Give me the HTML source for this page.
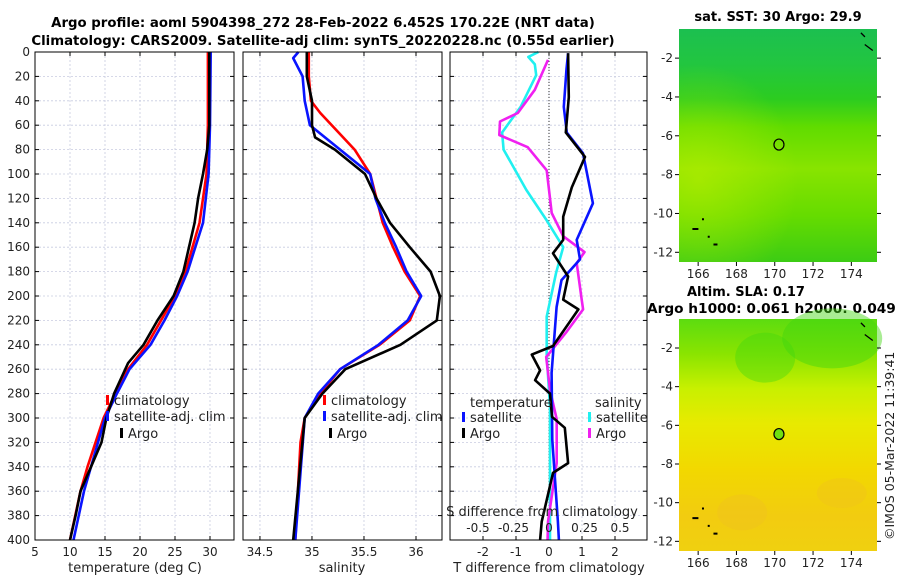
<!DOCTYPE html>
<html><head><meta charset="utf-8">
<style>
body{margin:0;background:#fff;}
svg{display:block;font-family:"DejaVu Sans","Liberation Sans",sans-serif;}
</style></head>
<body>
<svg id="c" width="900" height="580" xmlns="http://www.w3.org/2000/svg">
<defs>
<linearGradient id="sstg" x1="0" y1="0" x2="0" y2="1">
<stop offset="0" stop-color="#1cbf50"/><stop offset="0.15" stop-color="#22c640"/><stop offset="0.3" stop-color="#2ccc20"/><stop offset="0.42" stop-color="#60dc00"/><stop offset="0.6" stop-color="#88e400"/><stop offset="0.8" stop-color="#66dc00"/><stop offset="1" stop-color="#3ccc14"/>
</linearGradient>
<radialGradient id="sstx" cx="0.1" cy="0.65" r="0.5">
<stop offset="0" stop-color="#c8f000" stop-opacity="0.5"/><stop offset="1" stop-color="#c8f000" stop-opacity="0"/>
</radialGradient>
<linearGradient id="slag" x1="0" y1="0" x2="0" y2="1">
<stop offset="0" stop-color="#5cdc10"/><stop offset="0.15" stop-color="#8ae400"/><stop offset="0.3" stop-color="#c8f000"/><stop offset="0.45" stop-color="#e8ea00"/><stop offset="0.65" stop-color="#f2d800"/><stop offset="0.85" stop-color="#f2cc10"/><stop offset="1" stop-color="#f0d010"/>
</linearGradient>
</defs>
<g id="titles">
<text x="323" y="27" font-size="13.3" font-weight="bold" text-anchor="middle">Argo profile: aoml 5904398_272 28-Feb-2022 6.452S 170.22E (NRT data)</text>
<text x="323" y="45" font-size="13.3" font-weight="bold" text-anchor="middle">Climatology: CARS2009. Satellite-adj clim: synTS_20220228.nc (0.55d earlier)</text>
<text x="778" y="21" font-size="13" font-weight="bold" text-anchor="middle">sat. SST: 30 Argo: 29.9</text>
<text x="687" y="296" font-size="13" font-weight="bold">Altim. SLA: 0.17</text>
<text x="647" y="313" font-size="13.7" font-weight="bold">Argo h1000: 0.061 h2000: 0.049</text>
<text transform="translate(894,540) rotate(-90)" font-size="12.5" fill="#222">©IMOS 05-Mar-2022 11:39:41</text>
</g>
</svg>
<script>
const NS="http://www.w3.org/2000/svg";
const svg=document.getElementById('c');
function mk(tag,attrs,parent){const e=document.createElementNS(NS,tag);for(const k in attrs)e.setAttribute(k,attrs[k]);(parent||svg).appendChild(e);return e;}

// ---- data ----
const depthTicks=[0,20,40,60,80,100,120,140,160,180,200,220,240,260,280,300,320,340,360,380,400];
const tempTicks=[5,10,15,20,25,30];
const salTicks=[34.5,35,35.5,36];
const tdiffTicks=[-2,-1,0,1,2];
const sdiffTicks=[-0.5,-0.25,0,0.25,0.5];
const sdiffLabels=["-0.5","-0.25","0","0.25","0.5"];

const climTDepth=[0,60,100,140,180,200,240,260,280,300,340,360,400];
const climT=[29.7,29.7,29.5,28.5,26.5,25,21,18.3,16.5,14.8,12.5,11.5,10];
const satTDepth=[0,60,100,140,180,200,220,240,260,280,300,340,360,400];
const satT=[30.1,30,29.8,29,26.8,25.3,23.5,21.5,18.5,16.7,15,13,12,10.5];
const argoTDepth=[0,60,80,100,120,140,160,180,200,220,240,255,260,280,300,320,340,360,380,400];
const argoT=[29.9,29.9,29.6,29,28.3,27.8,27,26.2,24.8,22.5,20.5,18.3,17.9,16.3,15.2,14.5,13,11.5,10.8,10];

const climSDepth=[0,20,40,50,80,100,120,140,160,180,200,220,240,260,280,300,320,400];
const climS=[34.97,34.97,34.99,35.08,35.41,35.56,35.62,35.68,35.78,35.89,36.04,35.94,35.65,35.27,35.08,34.93,34.89,34.84];
const satSDepth=[0,5,20,40,60,80,100,120,140,160,180,200,220,240,260,280,300,400];
const satS=[34.87,34.82,34.91,34.93,34.98,35.27,35.56,35.61,35.70,35.81,35.91,36.05,35.92,35.64,35.27,35.06,34.93,34.84];
const argoSDepth=[0,20,40,60,70,80,100,120,140,160,180,200,220,240,260,280,300,400];
const argoS=[34.95,34.95,35.0,35.0,35.03,35.22,35.51,35.62,35.75,35.94,36.14,36.23,36.20,35.85,35.32,35.10,34.93,34.82];

const dTsatDepth=[1,14,45,66,83,124,154,170,187,209,263,318,385,400];
const dTsat=[0.58,0.53,0.45,0.54,1.03,1.33,0.84,0.94,0.38,0.23,0.08,0.1,0.27,0.3];
const dTargoDepth=[1,37,66,86,111,135,154,165,184,203,211,241,248,261,269,280,299,308,337,345,385,400];
const dTargo=[0.58,0.6,0.51,1.09,0.69,0.43,0.43,0.12,0.58,0.43,0.89,0.12,-0.52,-0.27,-0.42,0.03,0.09,0.48,0.58,0.12,-0.22,-0.27];
const dSsatDepth=[0,4,10,19,45,66,80,113,138,160,181,217,248,291,385,400];
const dSsat=[-0.075,-0.146,-0.1,-0.09,-0.2,-0.33,-0.32,-0.16,-0.016,0.1,0.05,-0.016,-0.016,0.007,0.007,0.007];
const dSargoDepth=[6.5,31,50,57,68,78,97,108,132,151,164,173,203,211,230,250,277,301,337,385,400];
const dSargo=[-0.007,-0.1,-0.22,-0.345,-0.35,-0.15,-0.016,-0.005,0.019,0.1,0.25,0.195,0.23,0.24,0.12,-0.02,0.007,0.054,0.054,-0.007,-0.01];

const lonTicks=[166,168,170,172,174];
const latTicks=[-2,-4,-6,-8,-10,-12];
const argoLon=170.22, argoLat=-6.452;

// ---- axes ----
const Y0=52,Y1=540;
const yD=d=>Y0+(d/400)*(Y1-Y0);
const P1={x0:35,x1:234,min:5,max:33.43};
const P2={x0:243,x1:442,min:34.337,max:36.25};
const P3={x0:450,x1:647,min:-3,max:2.97};
const xf=p=>v=>p.x0+(v-p.min)/(p.max-p.min)*(p.x1-p.x0);
const x1f=xf(P1),x2f=xf(P2),x3f=xf(P3),x3sf=xf({x0:450,x1:647,min:-549/142+450/142,max:(647-549)/142});

function panel(name){
  const g=mk('g',{});
  
  
  return g;
}
function grid(g,p,xs,xfun){
  depthTicks.forEach(d=>{const l=mk('line',{x1:p.x0,x2:p.x1,y1:yD(d),y2:yD(d),stroke:'#c8cce0','stroke-width':0.8,'stroke-dasharray':'2,2'},g);
    
    mk('line',{x1:p.x0,x2:p.x0+4,y1:yD(d),y2:yD(d),stroke:'#000'},g);mk('line',{x1:p.x1,x2:p.x1-4,y1:yD(d),y2:yD(d),stroke:'#000'},g);});
  xs.forEach(v=>{const x=xfun(v);const l=mk('line',{x1:x,x2:x,y1:Y0,y2:Y1,stroke:'#c8cce0','stroke-width':0.8,'stroke-dasharray':'2,2'},g);
    
    mk('line',{x1:x,x2:x,y1:Y1,y2:Y1-4,stroke:'#000'},g);mk('line',{x1:x,x2:x,y1:Y0,y2:Y0+4,stroke:'#000'},g);});
}
function frame(g,p){const r=mk('rect',{x:p.x0,y:Y0,width:p.x1-p.x0,height:Y1-Y0,fill:'none',stroke:'#000','stroke-width':1},g);
  }
function line(g,xs,ds,xfun,color,name){
  const pts=xs.map((v,i)=>xfun(v).toFixed(1)+','+yD(ds[i]).toFixed(1)).join(' ');
  const l=mk('polyline',{points:pts,fill:'none',stroke:color,'stroke-width':2.6,'stroke-linejoin':'round'},g);
  
}
function txt(g,x,y,s,t,anchor,name){const e=mk('text',{x:x,y:y,'font-size':s,'text-anchor':anchor||'start',fill:'#222'},g);e.textContent=t;
  return e;}
function legend(g,x,y,color,label,name){
  const m=mk('rect',{x:x,y:y-10,width:3,height:10,fill:color},g);
  
  txt(g,x+8,y,13,label,'start',name);
}

// Panel 1
const g1=panel('temperature-panel');
grid(g1,P1,tempTicks,x1f);
line(g1,climT,climTDepth,x1f,'#ff0000','climatology-temp-line');
line(g1,satT,satTDepth,x1f,'#0a14ff','satellite-adj-temp-line');
line(g1,argoT,argoTDepth,x1f,'#000','argo-temp-line');
frame(g1,P1);
depthTicks.forEach(d=>txt(g1,30,yD(d)+4,12,String(d),'end','depth-tick-label'));
tempTicks.forEach(v=>txt(g1,x1f(v),556,12,String(v),'middle','temp-tick-label'));
txt(g1,135,572,13,'temperature (deg C)','middle','x-axis-title-temperature');
legend(g1,106,405,'#ff0000','climatology','legend-climatology');
legend(g1,106,421,'#0a14ff','satellite-adj. clim','legend-satellite-adj');
legend(g1,120,438,'#000','Argo','legend-argo');

// Panel 2
const g2=panel('salinity-panel');
grid(g2,P2,salTicks,x2f);
line(g2,climS,climSDepth,x2f,'#ff0000','climatology-sal-line');
line(g2,satS,satSDepth,x2f,'#0a14ff','satellite-adj-sal-line');
line(g2,argoS,argoSDepth,x2f,'#000','argo-sal-line');
frame(g2,P2);
salTicks.forEach(v=>txt(g2,x2f(v),556,12,String(v),'middle','sal-tick-label'));
txt(g2,342,572,13,'salinity','middle','x-axis-title-salinity');
legend(g2,323,405,'#ff0000','climatology','legend-climatology');
legend(g2,323,421,'#0a14ff','satellite-adj. clim','legend-satellite-adj');
legend(g2,329,438,'#000','Argo','legend-argo');

// Panel 3
const g3=panel('difference-panel');
grid(g3,P3,tdiffTicks,x3f);
const z=mk('line',{x1:x3f(0),x2:x3f(0),y1:Y0,y2:Y1,stroke:'#333','stroke-width':1,'stroke-dasharray':'1,2'},g3);

line(g3,dSsat,dSsatDepth,x3sf,'#20f0f0','sal-diff-satellite-line');
line(g3,dSargo,dSargoDepth,x3sf,'#f020f0','sal-diff-argo-line');
line(g3,dTsat,dTsatDepth,x3f,'#0a14ff','temp-diff-satellite-line');
line(g3,dTargo,dTargoDepth,x3f,'#000','temp-diff-argo-line');
frame(g3,P3);
tdiffTicks.forEach(v=>txt(g3,x3f(v),556,12,String(v),'middle','tdiff-tick-label'));
sdiffTicks.forEach((v,i)=>txt(g3,x3sf(v),532,12,sdiffLabels[i],'middle','sdiff-tick-label'));
txt(g3,542,516,13,'S difference from climatology','middle','s-axis-title');
txt(g3,549,572,13,'T difference from climatology','middle','t-axis-title');
txt(g3,470,407,13,'temperature','start','legend-temperature-heading');
txt(g3,595,407,13,'salinity','start','legend-salinity-heading');
legend(g3,462,422,'#0a14ff','satellite','legend-temp-satellite');
legend(g3,462,438,'#000','Argo','legend-temp-argo');
legend(g3,588,422,'#20f0f0','satellite','legend-sal-satellite');
legend(g3,588,438,'#f020f0','Argo','legend-sal-argo');

// Maps
function map(name,y0,y1,fill,dotFill){
  const g=mk('g',{});
  
  const X0=679,X1=877;
  const lx=l=>X0+(l-165)*19.15;
  const ly=l=>y0+(-0.5-l)*((y1-y0)/12);
  const r=mk('rect',{x:X0,y:y0,width:X1-X0,height:y1-y0,fill:fill},g);
  
  if(name==='sst-map'){mk('rect',{x:X0,y:y0,width:X1-X0,height:y1-y0,fill:'url(#sstx)'},g);}
  else{mk('ellipse',{cx:lx(173),cy:ly(-1.5),rx:50,ry:30,fill:'#40d410',opacity:0.45},g);mk('ellipse',{cx:lx(169.5),cy:ly(-2.5),rx:30,ry:25,fill:'#40d810',opacity:0.4},g);
    mk('ellipse',{cx:lx(168.3),cy:ly(-10.5),rx:25,ry:18,fill:'#f0c020',opacity:0.4},g);mk('ellipse',{cx:lx(173.5),cy:ly(-9.5),rx:25,ry:15,fill:'#f0c020',opacity:0.35},g);}
  lonTicks.forEach(v=>{mk('line',{x1:lx(v),x2:lx(v),y1:y1,y2:y1+4,stroke:'#000'},g);txt(g,lx(v),y1+16,12,String(v),'middle','lon-tick-label');});
  latTicks.forEach(v=>{mk('line',{x1:X0-4,x2:X0,y1:ly(v),y2:ly(v),stroke:'#000'},g);mk('line',{x1:X1,x2:X1+4,y1:ly(v),y2:ly(v),stroke:'#000'},g);txt(g,X0-6,ly(v)+4,12,String(v),'end','lat-tick-label');});
  const c=mk('ellipse',{cx:lx(argoLon),cy:ly(argoLat),rx:5,ry:5.5,fill:dotFill,stroke:'#000','stroke-width':1.2},g);
  
  mk('path',{d:`M${lx(174.5)} ${ly(-0.7)} l4 4 M${lx(174.7)} ${ly(-1.3)} l8 6`,stroke:'#000','stroke-width':1.3,fill:'none'},g);
  mk('path',{d:`M${lx(165.7)} ${ly(-10.8)} h6 M${lx(166.2)} ${ly(-10.3)} h2 M${lx(166.8)} ${ly(-11.6)} h4 M${lx(166.5)} ${ly(-11.2)} h2`,stroke:'#000','stroke-width':2,fill:'none'},g);
}
map('sst-map',29,262,'url(#sstg)','none');
map('sla-map',319,551,'url(#slag)','#70e010');
</script>
</body></html>
